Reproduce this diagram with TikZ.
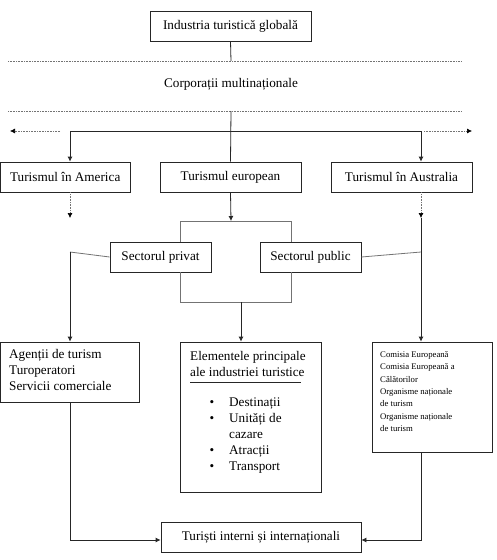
\documentclass[tikz,border=0pt]{standalone}
\usepackage{fontspec}
\setmainfont{Liberation Serif}
\usetikzlibrary{arrows.meta}
\begin{document}
\begin{tikzpicture}[x=1pt,y=-1pt,
 box/.style={draw=black!85, line width=0.8pt, inner sep=0pt, font=\fontsize{13.2}{16}\selectfont},
 ln/.style={draw=black!85, line width=0.8pt},
 gl/.style={draw=black!55, line width=0.8pt},
 dl/.style={draw=black!55, densely dotted, line width=0.6pt},
 arr/.style={-{Latex[length=5pt,width=5pt]}},
 darr/.style={-{Latex[length=5pt,width=5pt,color=black,fill=black]}},
 txt/.style={font=\fontsize{13.2}{16}\selectfont, inner sep=0pt},
 stxt/.style={font=\fontsize{8.7}{12}\selectfont, inner sep=0pt}]
\useasboundingbox (0,0) rectangle (496,560);
% boxes
\node[box, minimum width=161pt, minimum height=30pt] (glob) at (230.5,26) {Industria turistică globală};
\node[txt] (corp) at (231,84) {Corporații multinaționale};
\node[box, minimum width=129.5pt, minimum height=30pt] (am) at (65.25,177) {Turismul în America};
\node[box, minimum width=141pt, minimum height=30pt] (eu) at (230.5,177) {Turismul european};
\node[box, minimum width=141pt, minimum height=30pt] (au) at (401.5,177) {Turismul în Australia};
\node[box, minimum width=101pt, minimum height=30pt] (priv) at (160.5,257) {Sectorul privat};
\node[box, minimum width=101pt, minimum height=30pt] (pub) at (310.5,257) {Sectorul public};
\node[box, minimum width=139pt, minimum height=60pt] (ag) at (70,372) {};
\node[box, minimum width=141pt, minimum height=150pt] (el) at (250.5,417) {};
\node[box, minimum width=120pt, minimum height=110pt] (co) at (432,397) {};
\node[box, minimum width=200pt, minimum height=30pt] (tu) at (261,537) {Turiști interni și internaționali};
% texts inside multi-line boxes
\node[txt, anchor=base west] (ag1) at (9,358) {Agenții de turism};
\node[txt, anchor=base west] (ag2) at (9,374) {Turoperatori};
\node[txt, anchor=base west] (ag3) at (9,390) {Servicii comerciale};
\node[txt, anchor=base west] (el1) at (190,360) {Elementele principale};
\node[txt, anchor=base west] (el2) at (190,376) {ale industriei turistice};
\coordinate (rl) at (190,382);
\coordinate (rr) at (301,382);
\draw[ln] (rl) -- (rr);
\node[txt, anchor=base] (b1) at (212,406) {•};
\node[txt, anchor=base west] (e1) at (229,406) {Destinații};
\node[txt, anchor=base] (b2) at (212,422) {•};
\node[txt, anchor=base west] (e2) at (229,422) {Unități de};
\node[txt, anchor=base west] (e2b) at (229,438) {cazare};
\node[txt, anchor=base] (b3) at (212,454) {•};
\node[txt, anchor=base west] (e3) at (229,454) {Atracții};
\node[txt, anchor=base] (b4) at (212,470) {•};
\node[txt, anchor=base west] (e4) at (229,470) {Transport};
\node[stxt, anchor=base west] (c1) at (380,357) {Comisia Europeană};
\node[stxt, anchor=base west] (c2) at (380,369.5) {Comisia Europeană a};
\node[stxt, anchor=base west] (c3) at (380,382) {Călătorilor};
\node[stxt, anchor=base west] (c4) at (380,394) {Organisme naționale};
\node[stxt, anchor=base west] (c5) at (380,406.5) {de turism};
\node[stxt, anchor=base west] (c6) at (380,419) {Organisme naționale};
\node[stxt, anchor=base west] (c7) at (380,431.5) {de turism};
% coordinates
\coordinate (d1l) at (8,61);
\coordinate (d1r) at (461,61);
\coordinate (d1m) at (231,61);
\coordinate (d2l) at (8,111);
\coordinate (d2r) at (461,111);
\coordinate (d2m) at (231,111);
\coordinate (hl) at (70,131);
\coordinate (hr) at (421,131);
\coordinate (al0) at (60,131);
\coordinate (al1) at (10,131);
\coordinate (ar0) at (424,131);
\coordinate (ar1) at (472,131);
\coordinate (amd) at (70,218);
\coordinate (aud) at (421,218);
\coordinate (eud) at (231,221);
\coordinate (bl) at (180,221);
\coordinate (br) at (291,221);
\coordinate (ql) at (180,302);
\coordinate (qr) at (291,302);
\coordinate (qm) at (241,302);
\coordinate (pl) at (70,252);
\coordinate (pr) at (421,252);
\coordinate (tl) at (70,540);
\coordinate (tr) at (421,540);
% dotted separators
\draw[dl] (d1l) -- (d1r);
\draw[dl] (d2l) -- (d2r);
% connectors
\draw[ln] (glob.south) -- (d1m);
\draw[ln] (d2m) -- (eu.north);
\draw[ln] (hl) -- (hr);
\draw[ln, arr] (hl) -- (am.north -| hl);
\draw[ln, arr] (hr) -- (au.north -| hr);
\draw[dl, darr] (al0) -- (al1);
\draw[dl, darr] (ar0) -- (ar1);
\draw[dl, darr] (am.south -| amd) -- (amd);
\draw[dl, darr] (au.south -| aud) -- (aud);
\draw[ln, arr] (eu.south) -- (eud);
\draw[gl] (bl) -- (br);
\draw[gl] (bl) -- (priv.north -| bl);
\draw[gl] (br) -- (pub.north -| br);
\draw[gl] (priv.south -| ql) -- (ql) -- (qr) -- (pub.south -| qr);
\draw[ln, arr] (qm) -- (el.north -| qm);
\draw[gl] (priv.west) -- (pl);
\draw[ln, arr] (pl) -- (ag.north -| pl);
\draw[gl] (pub.east) -- (pr);
\draw[ln, arr] (aud) -- (co.north -| aud);
\draw[ln, arr] (ag.south -| tl) -- (tl) -- (tu.west |- tl);
\draw[ln, arr] (co.south -| tr) -- (tr) -- (tu.east |- tr);
\end{tikzpicture}
\end{document}
